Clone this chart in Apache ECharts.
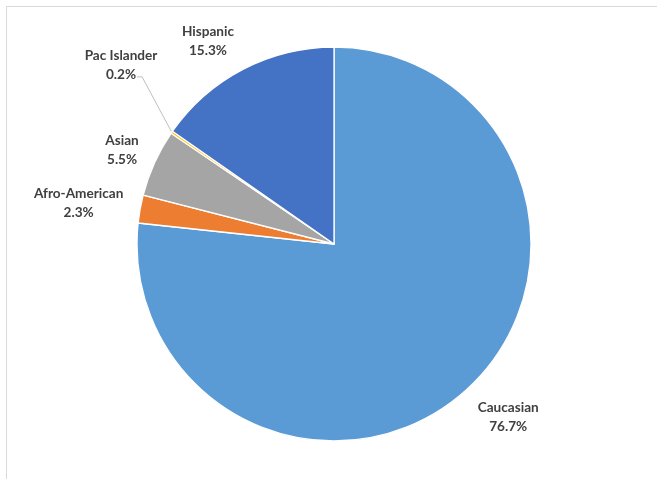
<!DOCTYPE html>
<html>
<head>
<meta charset="utf-8">
<script src="https://cdn.jsdelivr.net/npm/echarts@6/dist/echarts.min.js"></script>
<style>
html,body{margin:0;padding:0;background:#fff;}
#chart{width:657px;height:479px;}
</style>
</head>
<body>
<div id="chart"></div>
<script>
const categories = ['Caucasian', 'Afro-American', 'Asian', 'Pac Islander', 'Hispanic'];
const shares = [76.7, 2.3, 5.5, 0.2, 15.3];
const colors = ['#5B9BD5', '#ED7D31', '#A5A5A5', '#FFC000', '#4472C4'];

const CX = 334, CY = 244, R = 197;
const LABEL_GAP = 15;
const FONT_SIZE = 13.6;
const FONT_FAMILY = 'Lato';
const LINE_H = 19;
const MOVED_LABEL = 3;      // Pac Islander label was dragged upward
const MOVED_LIFT = 49;

const total = shares.reduce((a, b) => a + b, 0);
const midAngles = [];
(function () {
  let acc = 0;
  shares.forEach(v => {
    midAngles.push(((acc + v / 2) / total) * 2 * Math.PI);
    acc += v;
  });
})();

const measureCtx = document.createElement('canvas').getContext('2d');
function textW(t) {
  measureCtx.font = 'bold ' + FONT_SIZE + 'px ' + FONT_FAMILY;
  return measureCtx.measureText(t).width;
}

const chart = echarts.init(document.getElementById('chart'));

const data = categories.map((name, i) => {
  const item = { name: name, value: shares[i], itemStyle: { color: colors[i] } };
  if (i === MOVED_LABEL) {
    item.labelLine = { show: true, lineStyle: { color: '#BFBFBF', width: 1 } };
  }
  return item;
});

chart.setOption({
  backgroundColor: '#ffffff',
  animation: false,
  graphic: [{
    type: 'rect',
    shape: { x: 6.5, y: 6.5, width: 700, height: 520 },
    style: { fill: 'none', stroke: '#D9D9D9', lineWidth: 1 },
    silent: true
  }],
  series: [{
    type: 'pie',
    center: [CX, CY],
    radius: [0, R],
    startAngle: 90,
    clockwise: true,
    avoidLabelOverlap: false,
    itemStyle: { borderColor: '#ffffff', borderWidth: 1.3 },
    label: {
      show: true,
      position: 'outside',
      formatter: p => '{a|' + p.name + '}\n{a|' + p.value.toFixed(1) + '%}',
      rich: {
        a: {
          align: 'center',
          fontFamily: FONT_FAMILY,
          fontWeight: 'bold',
          fontSize: FONT_SIZE,
          lineHeight: LINE_H,
          color: '#404040'
        }
      }
    },
    labelLine: { show: false, length: 5, length2: 5 },
    labelLayout: function (params) {
      const i = params.dataIndex;
      const a = midAngles[i];
      const dx = Math.sin(a), dy = -Math.cos(a);
      const w = params.labelRect.width, h = params.labelRect.height;
      let x = CX + (R + LABEL_GAP) * dx + Math.sign(dx) * (w / 2 + 2);
      let y = CY + (R + LABEL_GAP) * dy + dy * h / 2 + (dy > 0 ? 3 : 0);
      const out = { x: x, y: y, align: 'center', verticalAlign: 'middle' };
      if (i === MOVED_LABEL) {
        y -= MOVED_LIFT;
        out.y = y;
        const ex = CX + R * dx, ey = CY + R * dy;
        const right2 = x + textW(shares[i].toFixed(1) + '%') / 2;
        const ly = y + LINE_H / 2 + 2;
        out.labelLinePoints = [[ex, ey], [right2 + 6, ly], [right2 + 1, ly]];
      }
      return out;
    },
    data: data
  }]
});
</script>
</body>
</html>
